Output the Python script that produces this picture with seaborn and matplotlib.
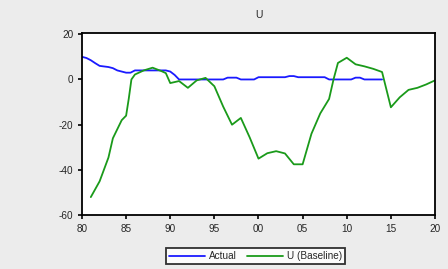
import numpy as np
import pandas as pd
import matplotlib
matplotlib.use("Agg")
import matplotlib.pyplot as plt
import seaborn as sns

# Actual series (blue)
actual_years = [1980, 1980.5, 1981, 1981.5, 1982, 1983, 1983.5, 1984, 1985, 1985.5,
                1986, 1987, 1988, 1989, 1989.5, 1990, 1990.5, 1991, 1992, 1993,
                1994, 1995, 1996, 1996.5, 1997, 1997.5, 1998, 1999, 1999.5, 2000,
                2001, 2002, 2003, 2003.5, 2004, 2004.5, 2005, 2006, 2007, 2007.5,
                2008, 2009, 2010, 2010.5, 2011, 2011.5, 2012, 2013, 2014]
actual_vals = [10, 9.5, 8.5, 7.2, 6, 5.5, 5, 4, 3, 3,
               4, 4, 4, 4, 4, 3.5, 2, 0, 0, 0,
               0, 0, 0, 0.8, 0.8, 0.8, 0, 0, 0, 1,
               1, 1, 1, 1.5, 1.5, 1, 1, 1, 1, 1,
               0, 0, 0, 0, 0.8, 0.8, 0, 0, 0]

# U (Baseline) series (green)
base_years = [1981, 1982, 1983, 1983.5, 1984, 1984.5, 1985, 1985.3, 1985.6, 1986,
              1987, 1988, 1989, 1989.5, 1990, 1991, 1992, 1993, 1994, 1995,
              1996, 1997, 1998, 1999, 2000, 2001, 2002, 2003, 2004, 2005,
              2006, 2007, 2008, 2008.5, 2009, 2010, 2011, 2012, 2013, 2014,
              2015, 2016, 2017, 2018, 2019, 2020]
base_vals = [-52, -45, -34.5, -26, -22, -18, -16, -8.5, 0, 2.2,
             4, 5.2, 3.7, 2.8, -1.6, -0.7, -3.7, -0.4, 0.7, -3,
             -12, -20, -17, -25.6, -35, -32.6, -31.7, -32.7, -37.5, -37.5,
             -24, -15, -8.6, 0, 7.3, 9.6, 6.7, 5.8, 4.7, 3.3,
             -12.3, -7.9, -4.6, -3.7, -2.2, -0.4]

tick_years = [1980, 1985, 1990, 1995, 2000, 2005, 2010, 2015, 2020]
tick_labels = ["80", "85", "90", "95", "00", "05", "10", "15", "20"]

df_a = pd.DataFrame({"year": actual_years, "value": actual_vals})
df_b = pd.DataFrame({"year": base_years, "value": base_vals})

sns.set_style("ticks")
plt.rcParams['font.family'] = ['Liberation Sans', 'DejaVu Sans']
plt.rcParams['axes.unicode_minus'] = False

fig = plt.figure(figsize=(4.48, 2.69), dpi=100, facecolor="#ececec")
ax = fig.add_axes([0.183, 0.2, 0.788, 0.677])
ax.set_facecolor("white")

sns.lineplot(data=df_a, x="year", y="value", color="#1a1aff", linewidth=1.3,
             label="Actual", ax=ax)
sns.lineplot(data=df_b, x="year", y="value", color="#1a9a1a", linewidth=1.3,
             label="U (Baseline)", ax=ax)

ax.set_xlim(1980, 2020)
ax.set_ylim(-60, 20.5)
ax.set_yticks([20, 0, -20, -40, -60])
ax.set_xticks(tick_years)
ax.set_xticklabels(tick_labels)
ax.set_xlabel("")
ax.set_ylabel("")
ax.tick_params(labelsize=7.2, length=3, width=1.2, color="black", pad=3)
for s in ax.spines.values():
    s.set_linewidth(1.3)
    s.set_color("black")
ax.set_title("U", fontsize=7.5, pad=11)

ax.get_legend().remove()
h, l = ax.get_legend_handles_labels()
leg = fig.legend(h, l, loc="lower center", bbox_to_anchor=(0.57, 0.0), ncol=2,
                 fontsize=7.2, frameon=True, fancybox=False, edgecolor="black",
                 handlelength=3.6, columnspacing=1.0, borderpad=0.3,
                 handletextpad=0.4)
leg.get_frame().set_linewidth(1.3)

fig.savefig("out.png", dpi=100, facecolor=fig.get_facecolor())
